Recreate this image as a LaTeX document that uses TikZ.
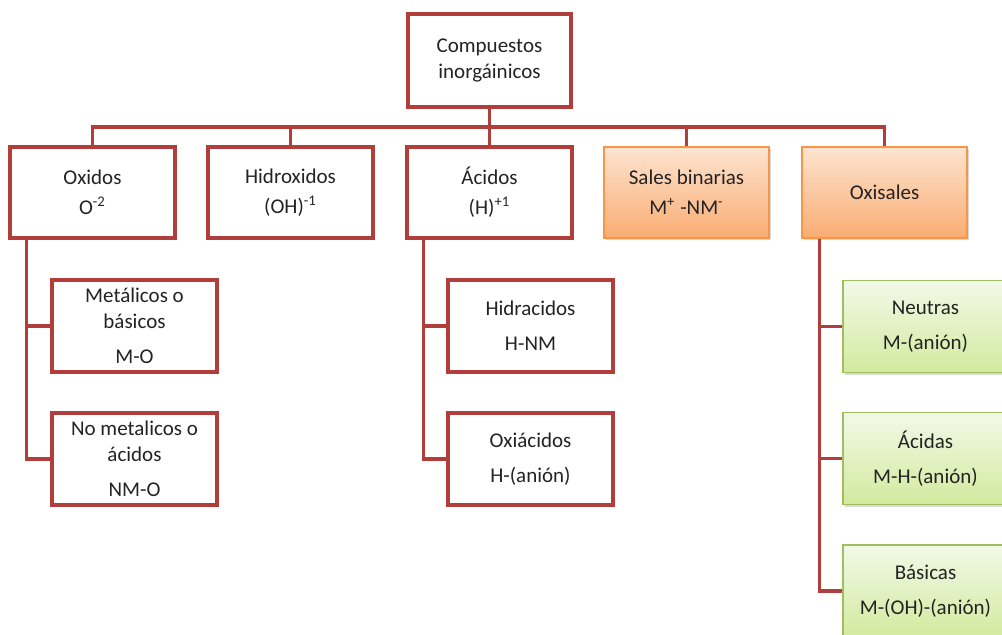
\documentclass[tikz,border=0pt]{standalone}
\usepackage{fontspec}
\setmainfont{Carlito}
\usetikzlibrary{calc,shadows}
\definecolor{redline}{RGB}{178,62,60}
\definecolor{orgborder}{RGB}{247,150,70}
\definecolor{orgtop}{RGB}{253,228,208}
\definecolor{orgbot}{RGB}{249,172,114}
\definecolor{grnborder}{RGB}{160,190,95}
\definecolor{grntop}{RGB}{242,249,232}
\definecolor{grnbot}{RGB}{210,234,158}
\definecolor{txt}{RGB}{35,35,35}
\begin{document}
\begin{tikzpicture}[x=0.5pt,y=-0.5pt,
 every node/.style={font=\fontsize{10.5}{13}\selectfont, text=txt, align=center},
 redbox/.style={draw=redline, line width=1.75pt, fill=white, minimum width=82.5pt, minimum height=45.5pt, inner sep=1pt},
 orgbox/.style={draw=orgborder, line width=0.75pt, top color=orgtop, bottom color=orgbot, minimum width=82.5pt, minimum height=45.5pt, inner sep=1pt, drop shadow={shadow xshift=1pt, shadow yshift=-1.2pt, opacity=0.3}},
 grnbox/.style={draw=grnborder, line width=0.75pt, top color=grntop, bottom color=grnbot, minimum width=82.5pt, minimum height=45.5pt, inner sep=1pt, drop shadow={shadow xshift=1pt, shadow yshift=-1.2pt, opacity=0.3}},
 conn/.style={draw=redline, line width=1.75pt}]
\useasboundingbox (0,0) rectangle (1002,634);
\clip (0,0) rectangle (1002,634);
% top
\node[redbox, minimum width=81.5pt, minimum height=46.5pt] (root) at (489.5,60.5) {Compuestos\\inorgáinicos};
\node[redbox] (ox) at (92.5,192.5) {Oxidos\\[2pt]O\textsuperscript{-2}};
\node[redbox] (hid) at (290.5,192.5) {Hidroxidos\\[2pt](OH)\textsuperscript{-1}};
\node[redbox] (aci) at (489.5,192.5) {Ácidos\\[2pt](H)\textsuperscript{+1}};
\node[orgbox] (sal) at (686.5,192.5) {Sales binarias\\[2pt]M\textsuperscript{+} -NM\textsuperscript{-}};
\node[orgbox] (oxs) at (884.5,192.5) {Oxisales};
% oxidos children
\node[redbox, minimum height=46pt] (met) at (134.5,326) {Metálicos o\\básicos\\[4.5pt]M-O};
\node[redbox, minimum height=46pt] (nomet) at (134.5,459) {No metalicos o\\ácidos\\[4.5pt]NM-O};
% acidos children
\node[redbox, minimum height=46pt] (hidr) at (530.5,326) {Hidracidos\\[4.5pt]H-NM};
\node[redbox, minimum height=46pt] (oxia) at (530.5,459) {Oxiácidos\\[4.5pt]H-(anión)};
% oxisales children
\node[grnbox, minimum height=46pt] (neu) at (925.5,326.5) {Neutras\\[4.5pt]M-(anión)};
\node[grnbox, minimum height=46pt] (acd) at (925.5,458.5) {Ácidas\\[4.5pt]M-H-(anión)};
\node[grnbox, minimum height=46pt] (bas) at (925.5,591) {Básicas\\[4.5pt]M-(OH)-(anión)};
% connectors
\coordinate (bus) at (489.5,127);
\draw[conn] (root.south) -- (bus);
\draw[conn] (bus) -| (ox.north);
\draw[conn] (bus) -| (hid.north);
\draw[conn] (bus) -- (aci.north);
\draw[conn] (bus) -| (sal.north);
\draw[conn] (bus) -| (oxs.north);
\coordinate (oxv) at ($(ox.south west)+(18,0)$);
\draw[conn] (oxv) |- (met.west);
\draw[conn] (oxv) |- (nomet.west);
\coordinate (aciv) at ($(aci.south west)+(18,0)$);
\draw[conn] (aciv) |- (hidr.west);
\draw[conn] (aciv) |- (oxia.west);
\coordinate (oxsv) at ($(oxs.south west)+(18,0)$);
\draw[conn] (oxsv) |- (neu.west);
\draw[conn] (oxsv) |- (acd.west);
\draw[conn] (oxsv) |- (bas.west);
\end{tikzpicture}
\end{document}
